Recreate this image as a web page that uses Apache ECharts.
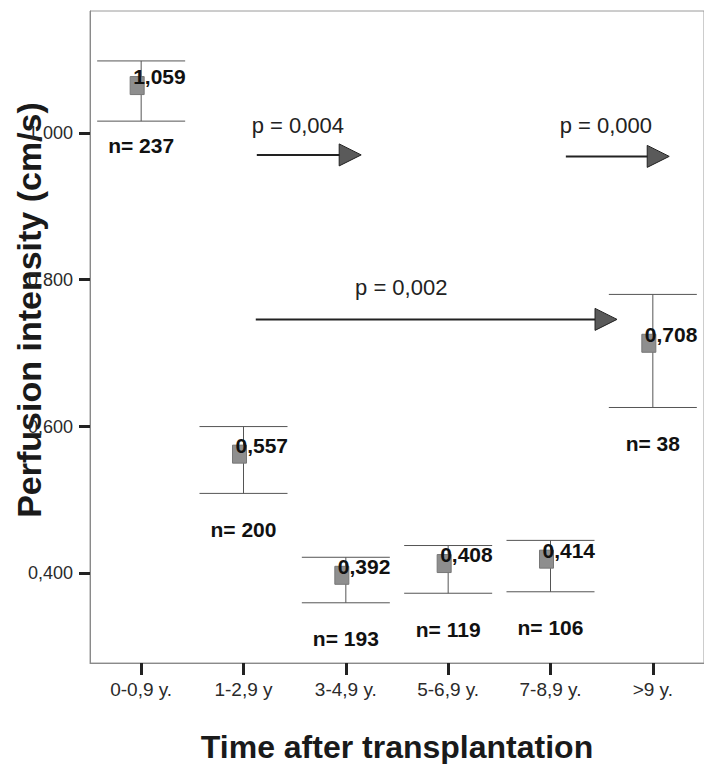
<!DOCTYPE html>
<html>
<head>
<meta charset="utf-8">
<script src="https://cdn.jsdelivr.net/npm/echarts@6/dist/echarts.min.js"></script>
<style>
html,body{margin:0;padding:0;background:#fff;}
#chart{width:704px;height:764px;}
</style>
</head>
<body>
<div id="chart"></div>
<script>
// ---- data ----
const categories = ['0-0,9 y.', '1-2,9 y', '3-4,9 y.', '5-6,9 y.', '7-8,9 y.', '>9 y.'];
const means   = [1.059, 0.557, 0.392, 0.408, 0.414, 0.708];
const ciUpper = [1.098, 0.600, 0.422, 0.438, 0.445, 0.780];
const ciLower = [1.016, 0.509, 0.360, 0.373, 0.375, 0.626];
const nValues = [237, 200, 193, 119, 106, 38];
const yTicks  = [0.4, 0.6, 0.8, 1.0];

// significance arrows (x in category units, y in cm/s)
const arrowStartX = [1.13, 4.15, 1.12];
const arrowEndX   = [2.15, 5.16, 4.65];
const arrowY      = [0.970, 0.968, 0.746];
const pLabels     = ['p = 0,004', 'p = 0,000', 'p = 0,002'];
const pLabelX     = [1.08, 4.09, 2.09];
const pLabelY     = [1.010, 1.010, 0.789];

const FONT = "'Liberation Sans', Arial, sans-serif";
const fmt = v => v.toFixed(3).replace('.', ',');

const barData = categories.map((c, i) => [i, ciLower[i], ciUpper[i], means[i], nValues[i]]);
const arrowData = pLabels.map((p, i) => [arrowStartX[i], arrowEndX[i], arrowY[i], pLabelX[i], pLabelY[i], i]);

const chart = echarts.init(document.getElementById('chart'), null, {renderer: 'svg'});

chart.setOption({
  backgroundColor: '#fff',
  animation: false,
  grid: {left: 90, right: 0, top: 11, bottom: 101, show: true, borderColor: '#9a9a9a', borderWidth: 1,
    containLabel: false, outerBoundsMode: 'none'},
  xAxis: [{
    type: 'category',
    data: categories,
    boundaryGap: true,
    axisLine: {show: true, onZero: false, lineStyle: {color: '#8a8a8a', width: 1}},
    axisTick: {show: true, alignWithLabel: true, length: 12, lineStyle: {color: '#222', width: 3}},
    axisLabel: {fontSize: 19, color: '#2a2a2a', margin: 17, fontFamily: FONT},
    name: 'Time after transplantation',
    nameLocation: 'middle',
    nameGap: 68,
    nameMoveOverlap: false,
    nameTextStyle: {fontSize: 32, fontWeight: 'bold', color: '#1a1a1a', fontFamily: FONT}
  }, {
    type: 'value', min: -0.5, max: 5.5, show: false
  }],
  yAxis: {
    type: 'value',
    min: 0.278,
    max: 1.166,
    splitLine: {show: false},
    axisLine: {show: true, onZero: false, lineStyle: {color: '#8a8a8a', width: 1}},
    axisTick: {show: true, length: 11, lineStyle: {color: '#222', width: 3}, customValues: yTicks},
    axisLabel: {customValues: yTicks, formatter: v => fmt(v), fontSize: 18, color: '#2a2a2a', margin: 17, fontFamily: FONT},
    name: 'Perfusion intensity (cm/s)',
    nameLocation: 'middle',
    nameGap: 44,
    nameMoveOverlap: false,
    nameTextStyle: {fontSize: 34, fontWeight: 'bold', color: '#1a1a1a', fontFamily: FONT, padding: [0, 0, 0, 54]}
  },
  series: [{
    type: 'custom',
    xAxisIndex: 0,
    yAxisIndex: 0,
    data: barData,
    renderItem: function (params, api) {
      const i = api.value(0);
      const lo = api.coord([i, api.value(1)]);
      const hi = api.coord([i, api.value(2)]);
      const m = api.coord([i, api.value(3)]);
      const half = api.size([1, 0])[0] * 0.43;
      const lineStyle = {stroke: '#555', lineWidth: 1};
      const nGap = i === 0 ? 24 : 36;
      return {
        type: 'group',
        children: [
          {type: 'line', shape: {x1: hi[0], y1: hi[1], x2: lo[0], y2: lo[1]}, style: lineStyle},
          {type: 'line', shape: {x1: hi[0] - half, y1: hi[1], x2: hi[0] + half, y2: hi[1]}, style: lineStyle},
          {type: 'line', shape: {x1: lo[0] - half, y1: lo[1], x2: lo[0] + half, y2: lo[1]}, style: lineStyle},
          {type: 'rect', shape: {x: m[0] - 11, y: m[1] - 13, width: 14, height: 18}, style: {fill: '#8e8e8e', stroke: '#777', lineWidth: 1}},
          {type: 'text', style: {text: fmt(api.value(3)), x: m[0] - 8, y: m[1] - 13, align: 'left', verticalAlign: 'middle',
            fontSize: 21, fontWeight: 'bold', fontFamily: FONT, fill: '#111'}},
          {type: 'text', style: {text: 'n= ' + api.value(4), x: lo[0], y: lo[1] + nGap, align: 'center', verticalAlign: 'middle',
            fontSize: 21, fontWeight: 'bold', fontFamily: FONT, fill: '#111'}}
        ]
      };
    }
  }, {
    type: 'custom',
    xAxisIndex: 1,
    yAxisIndex: 0,
    data: arrowData,
    renderItem: function (params, api) {
      const s = api.coord([api.value(0), api.value(2)]);
      const e = api.coord([api.value(1), api.value(2)]);
      const t = api.coord([api.value(3), api.value(4)]);
      const L = 22, H = 11;
      return {
        type: 'group',
        children: [
          {type: 'line', shape: {x1: s[0], y1: s[1], x2: e[0] - L + 2, y2: e[1]}, style: {stroke: '#222', lineWidth: 2}},
          {type: 'polygon', shape: {points: [[e[0] - L, e[1] - H], [e[0], e[1]], [e[0] - L, e[1] + H]]},
            style: {fill: '#5a5a5a', stroke: '#222', lineWidth: 1}},
          {type: 'text', style: {text: pLabels[api.value(5)], x: t[0], y: t[1], align: 'left', verticalAlign: 'middle',
            fontSize: 22, fontFamily: FONT, fill: '#222'}}
        ]
      };
    }
  }]
});
</script>
</body>
</html>
